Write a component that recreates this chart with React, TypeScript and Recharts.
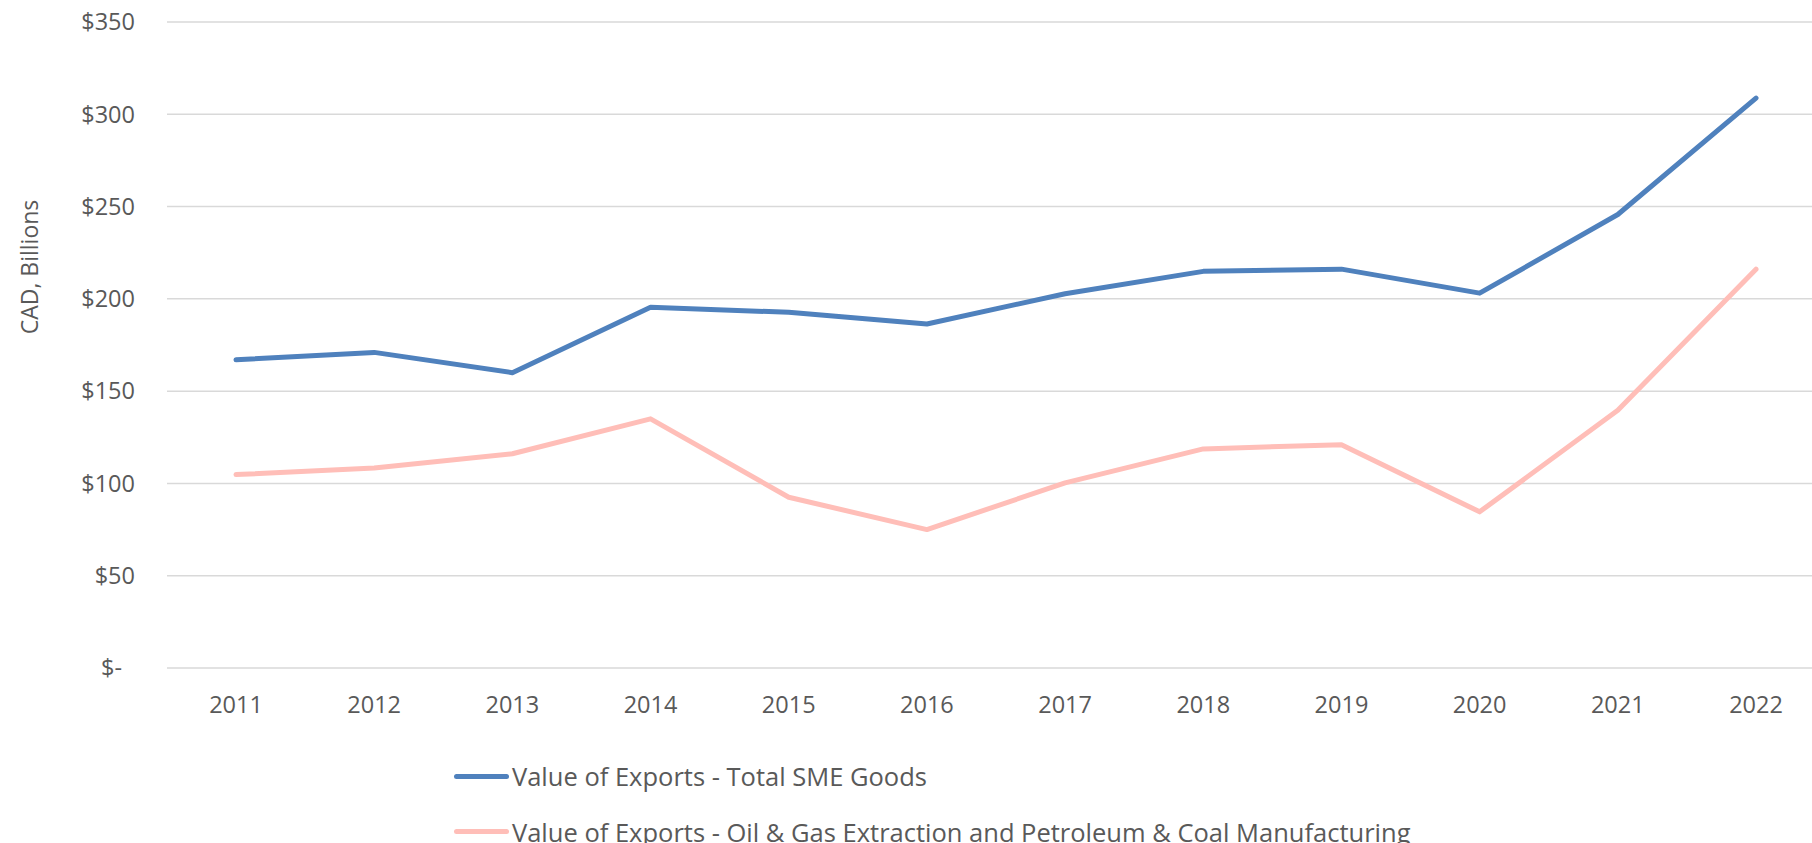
import React from 'react';
import { LineChart, Line, XAxis, YAxis, CartesianGrid } from 'recharts';

const years = ['2011', '2012', '2013', '2014', '2015', '2016', '2017', '2018', '2019', '2020', '2021', '2022'];
const totalSme = [167, 171, 160, 195.5, 192.7, 186.4, 202.8, 214.9, 216.1, 203.1, 245.7, 308.8];
const oilGas = [104.8, 108.3, 116.1, 135, 92.5, 75, 100.3, 118.7, 121, 84.6, 139.6, 216.1];
const yTicks = [0, 50, 100, 150, 200, 250, 300, 350];

const seriesNames = [
  'Value of Exports - Total SME Goods',
  'Value of Exports - Oil & Gas Extraction and Petroleum & Coal Manufacturing',
];
const seriesColors = ['#4F81BD', '#FFBEB8'];

const data = years.map((year, i) => ({ year, total: totalSme[i], oil: oilGas[i] }));

const FONT = '"Open Sans", sans-serif';
const TEXT = '#595959';

const YTick = (props: any) => {
  const { x, y, payload } = props;
  const v = payload.value;
  const label = v === 0 ? '$-' : `$${v}`;
  return (
    <text
      x={v === 0 ? x - 13 : x}
      y={y}
      dy="0.355em"
      textAnchor="end"
      fill={TEXT}
      fontSize={23.5}
      fontFamily={FONT}
    >
      {label}
    </text>
  );
};

const AxisTitle = () => (
  <text
    x={0}
    y={0}
    transform="translate(29, 267) rotate(-90)"
    textAnchor="middle"
    dominantBaseline="central"
    fill={TEXT}
    fontSize={23}
    fontFamily={FONT}
  >
    CAD, Billions
  </text>
);

export default function App() {
  return (
    <div
      style={{
        position: 'fixed',
        left: 0,
        top: 0,
        width: 1812,
        height: 843,
        overflow: 'hidden',
        background: '#fff',
      }}
    >
      <LineChart
        width={1830}
        height={843}
        data={data}
        margin={{ top: 22, right: 5, bottom: 135, left: 0 }}
      >
        <CartesianGrid vertical={false} stroke="#D9D9D9" strokeWidth={1.5} />
        <XAxis
          dataKey="year"
          axisLine={false}
          tickLine={false}
          padding={{ left: 69, right: 69 }}
          height={40}
          tickMargin={22}
          interval={0}
          tick={{ fill: TEXT, fontSize: 23.5, fontFamily: FONT }}
        />
        <YAxis
          width={167}
          domain={[0, 350]}
          ticks={yTicks}
          axisLine={false}
          tickLine={false}
          tickMargin={26}
          tick={<YTick />}
          label={<AxisTitle />}
        />
        <Line
          dataKey="total"
          name={seriesNames[0]}
          stroke={seriesColors[0]}
          strokeWidth={5}
          strokeLinecap="round"
          strokeLinejoin="round"
          dot={false}
          isAnimationActive={false}
        />
        <Line
          dataKey="oil"
          name={seriesNames[1]}
          stroke={seriesColors[1]}
          strokeWidth={5}
          strokeLinecap="round"
          strokeLinejoin="round"
          dot={false}
          isAnimationActive={false}
        />
      </LineChart>
      {seriesNames.map((name, i) => (
        <div
          key={name}
          style={{
            position: 'absolute',
            left: 454,
            top: 776 + i * 55.5 - 20,
            height: 40,
            display: 'flex',
            alignItems: 'center',
            whiteSpace: 'nowrap',
            fontFamily: FONT,
            fontSize: 25.5,
            color: TEXT,
          }}
        >
          <span
            style={{
              display: 'inline-block',
              width: 55,
              height: 5,
              borderRadius: 3,
              background: seriesColors[i],
              marginRight: 3,
            }}
          />
          {name}
        </div>
      ))}
    </div>
  );
}
